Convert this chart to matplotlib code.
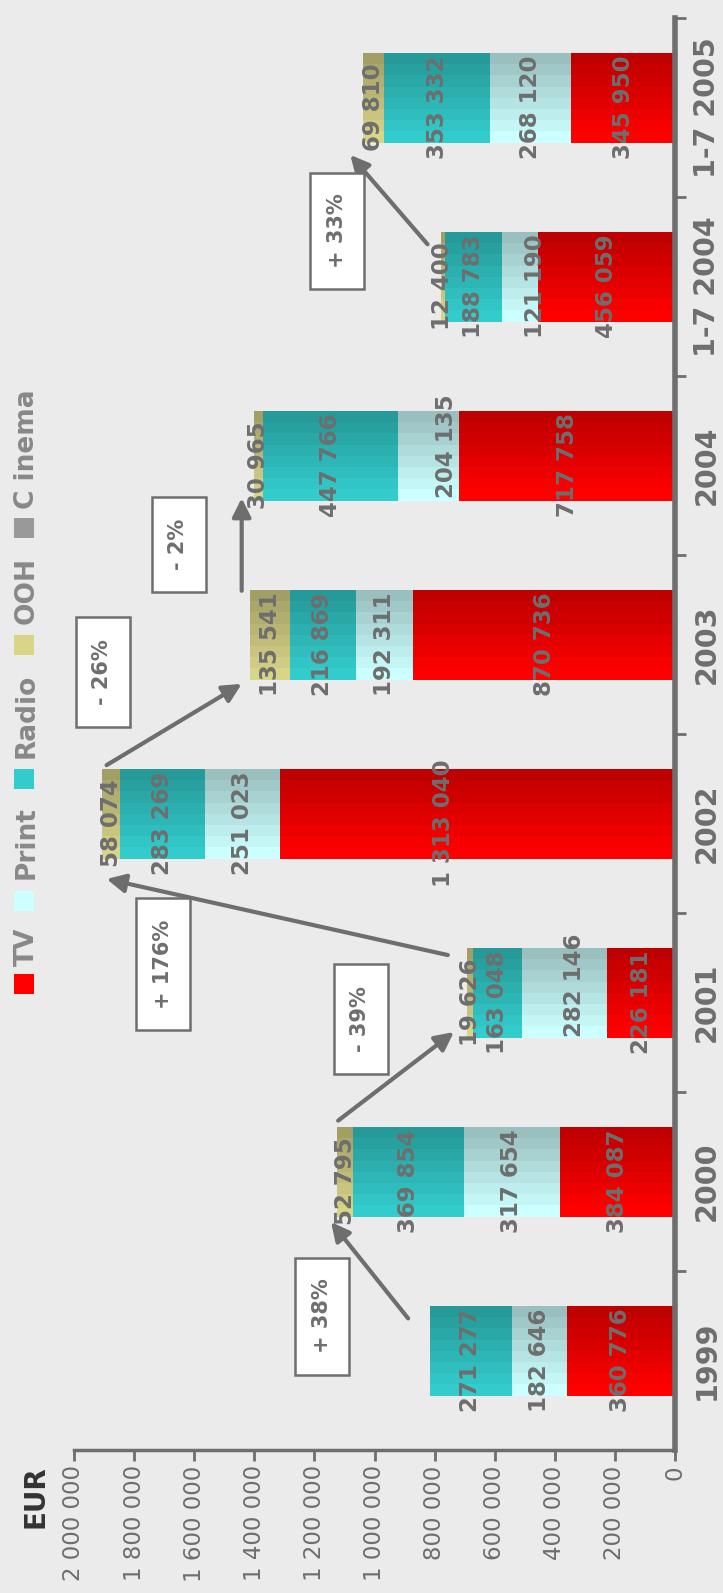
import numpy as np
import matplotlib.pyplot as plt
from matplotlib.patches import Rectangle
from matplotlib.colors import to_rgb

# Advertising spend by medium (EUR)
periods = ['1999', '2000', '2001', '2002', '2003', '2004', '1-7 2004', '1-7 2005']
media = ['TV', 'Print', 'Radio', 'OOH', 'C inema']
tv = [360776, 384087, 226181, 1313040, 870736, 717758, 456059, 345950]
press = [182646, 317654, 282146, 251023, 192311, 204135, 121190, 268120]
radio = [271277, 369854, 163048, 283269, 216869, 447766, 188783, 353332]
ooh = [0, 52795, 19626, 58074, 135541, 30965, 12400, 69810]
cinema = [0, 0, 0, 0, 0, 0, 0, 0]
changes = ['+ 38%', '- 39%', '+ 176%', '- 26%', '- 2%', '+ 33%']

series = [tv, press, radio, ooh, cinema]
colors = ['#ff0000', '#ccffff', '#33cccc', '#d8d488', '#999999']

bg = '#ebebeb'
grey = '#6e6e6e'
W, H = 723, 1593

fig = plt.figure(figsize=(W / 100, H / 100), dpi=100, facecolor=bg)
ax = fig.add_axes([74 / W, (H - 1450) / H, (675 - 74) / W, (1450 - 18) / H])
ax.set_facecolor('none')
ax.set_xlim(2000000, 0)
ax.set_ylim(-0.5, 7.5)


def fmt(v):
    return f'{v:,}'.replace(',', ' ')


# a few labels are moved aside so they don't crowd their neighbours
nudge = {(3, 0): (115000, 0), (5, 1): (-61000, 0.11),
         (2, 1): (-34000, 0.095), (6, 1): (-51000, 0)}

# stacked bars, each drawn as shaded stripes
n_str = 8
thick = 0.5
shift = 0.055
for i in range(len(periods)):
    left = 0
    for j, (vals, col) in enumerate(zip(series, colors)):
        v = vals[i]
        if v <= 0:
            continue
        base = np.array(to_rgb(col))
        for k in range(n_str):
            f = 1 - 0.25 * k / (n_str - 1)
            yc = i + shift - thick / 2 + (k + 0.5) * thick / n_str
            ax.barh(yc, v, left=left, height=thick / n_str * 1.02,
                    color=base * f, linewidth=0, zorder=2)
        dx, dy = nudge.get((i, j), (0, 0))
        ax.text(left + v / 2 + dx, i + dy, fmt(v), rotation=90, ha='center',
                va='center', fontsize=16.5, fontweight='bold', color=grey,
                zorder=4)
        left += v

# year-on-year arrows
arrows = [((888000, 0.235), (1144700, 0.774)),
          ((1121000, 1.34), (735800, 1.835)),
          ((756000, 2.265), (1891500, 2.69)),
          ((1891500, 3.326), (1442000, 3.78)),
          ((1442000, 4.30), (1442000, 4.818)),
          ((823600, 6.236), (1080500, 6.735))]
for tail, head in arrows:
    ax.annotate('', xy=head, xytext=tail,
                arrowprops=dict(arrowstyle='-|>', color=grey, lw=3,
                                mutation_scale=28, shrinkA=0, shrinkB=0),
                zorder=5)

# axes styling
for s in ['top', 'left']:
    ax.spines[s].set_visible(False)
ax.spines['right'].set_color(grey)
ax.spines['right'].set_linewidth(4)
ax.spines['bottom'].set_color(grey)
ax.spines['bottom'].set_linewidth(2.5)

xt = np.arange(0, 2000001, 200000)
ax.set_xticks(xt)
ax.set_xticklabels([fmt(v) for v in xt], rotation=90, va='top', ha='center',
                   fontsize=16.5, color=grey)
ax.tick_params(axis='x', length=8, width=2, color=grey, pad=3)

ax.yaxis.tick_right()
ax.set_yticks(range(len(periods)))
ax.set_yticklabels(periods, rotation=90, va='center', fontsize=20.5,
                   fontweight='bold', color=grey)
ax.set_yticks(np.arange(0.5, len(periods), 1), minor=True)
ax.tick_params(axis='y', which='major', length=0, pad=13)
ax.tick_params(axis='y', which='minor', length=8, width=2, color=grey,
               direction='out')

# overlay in pixel units for legend, unit label and change boxes
ov = fig.add_axes([0, 0, 1, 1])
ov.set_xlim(0, W)
ov.set_ylim(H, 0)
ov.axis('off')
ov.set_facecolor('none')

ov.text(35, 1497, 'EUR', rotation=90, ha='center', va='center',
        fontsize=20, fontweight='bold', color='#333333')

sq_y = [984, 901, 779, 645, 528]
txt_y = [947, 843, 716, 590, 449]
for name, col, sy, ty in zip(media, colors, sq_y, txt_y):
    ov.add_patch(Rectangle((14, sy - 10), 20, 20, color=col, lw=0))
    ov.text(34, ty, name, rotation=90, rotation_mode='anchor', ha='center',
            va='baseline', fontsize=19, fontweight='bold', color='#888888')

boxes = [(322, 1316, 117), (360.5, 1019, 110), (163, 964, 132),
         (102.5, 672, 110), (178.5, 544, 95), (337, 231, 116)]
for (cx, cy, h), lab in zip(boxes, changes):
    ov.add_patch(Rectangle((cx - 27, cy - h / 2), 54, h, facecolor='white',
                           edgecolor=grey, lw=1.8))
    ov.text(cx, cy, lab, rotation=90, ha='center', va='center',
            fontsize=15, fontweight='bold', color=grey)

fig.savefig('out.png', dpi=100, facecolor=bg)
